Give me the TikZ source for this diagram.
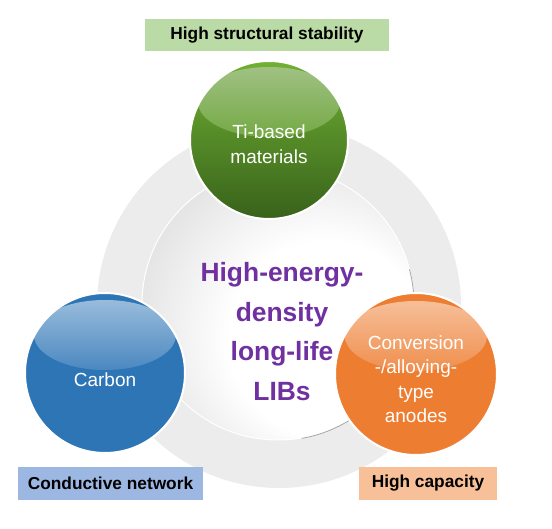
\documentclass[tikz,border=0pt]{standalone}
\usepackage{fontspec}
\setmainfont{Liberation Sans}
\usetikzlibrary{calc}
\definecolor{RingGray}{RGB}{236,236,236}
\definecolor{LeafGreen}{RGB}{112,176,52}
\definecolor{DeepGreen}{RGB}{56,98,26}
\definecolor{OfficeBlue}{RGB}{46,117,182}
\definecolor{OfficeOrange}{RGB}{237,125,49}
\definecolor{HubPurple}{RGB}{112,48,160}
\definecolor{TagGreen}{RGB}{187,219,166}
\definecolor{TagBlue}{RGB}{157,183,227}
\definecolor{TagOrange}{RGB}{248,192,152}
\pgfdeclareradialshading{hubshade}{\pgfpoint{14bp}{-10bp}}{color(0bp)=(white); color(18bp)=(white); color(50bp)=(black!25)}
\tikzset{
  ball/.style={circle, draw=white, line width=2pt, inner sep=0pt,
    path picture={\shade[top color=white!55!#1, bottom color=#1, middle color=white!12!#1]
      ($(path picture bounding box.center)+(0,38)$) ellipse [x radius=71, y radius=35];}},
  balltext/.style={text=white, align=center, font=\fontsize{19}{24.5}\selectfont},
  tag/.style={rectangle, inner sep=0pt, minimum height=32pt,
    font=\fontsize{17.3}{20}\selectfont\bfseries}
}

\begin{document}
\begin{tikzpicture}[x=1pt, y=1pt]
  \useasboundingbox (0,0) rectangle (552,528);
  % grey ring and hub
  \node[circle, fill=RingGray, minimum size=364pt, inner sep=0pt] (ring) at (279,222) {};
  \node[circle, shading=hubshade, draw=white, line width=1pt, minimum size=272pt, inner sep=0pt] (hub) at (278,224) {};
  \draw[black!35, line width=0.8pt] (hub.-80) arc[start angle=-80, end angle=15, radius=136];

  % the three spheres
  \node[ball=LeafGreen!80!DeepGreen, minimum size=158pt, top color=LeafGreen, bottom color=DeepGreen] (ti) at (269,388) {};
  \node[ball=OfficeBlue, minimum size=160pt, fill=OfficeBlue] (carbon) at (105,155) {};
  \node[ball=OfficeOrange, minimum size=162pt, fill=OfficeOrange] (alloy) at (416,154) {};
  \node[balltext] (ti-text) at ([yshift=-4pt]ti.center) {Ti-based\\materials};
  \node[balltext] (carbon-text) at ([yshift=-7pt]carbon.center) {Carbon};
  \node[balltext] (alloy-text) at ([yshift=-5pt]alloy.center) {Conversion\\-/alloying-\\type\\anodes};

  \node[text=HubPurple, align=center, font=\fontsize{26.4}{39.5}\selectfont\bfseries] (lib) at (282,196.5) {High-energy-\\density\\long-life\\LIBs};

  % property tags
  \node[tag, fill=TagGreen, minimum width=244pt] (stab) at (267,492.5) {High structural stability};
  \node[tag, fill=TagBlue, minimum width=185pt] (cond) at (110.5,44.5) {Conductive network};
  \node[tag, fill=TagOrange, minimum width=138pt] (cap) at (428,44.5) {High capacity};
\end{tikzpicture}
\end{document}
